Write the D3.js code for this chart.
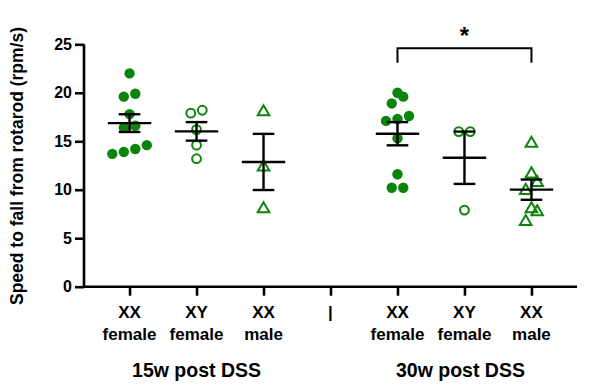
<!DOCTYPE html>
<html><head><meta charset="utf-8">
<script src="https://cdn.jsdelivr.net/npm/d3@7"></script>
<style>body{margin:0;background:#fff}svg{display:block}text{font-family:"Liberation Sans",Arial,sans-serif;font-weight:bold;fill:#000}</style>
</head><body><div id="chart"></div>
<script>
// ---- data ----
const categories = ["15-XX-F","15-XY-F","15-XX-M","sep","30-XX-F","30-XY-F","30-XX-M"];
const tickLine1 = ["XX","XY","XX","|","XX","XY","XX"];
const tickLine2 = ["female","female","male","","female","female","male"];
const groupLabels = ["15w post DSS","30w post DSS"];
const shapes = ["filled","open","triangle",null,"filled","open","triangle"];
const g15_XX_female = [22.0,19.9,19.6,17.8,16.6,16.4,14.6,14.2,13.9,13.7];
const g15_XY_female = [18.2,17.9,16.2,14.6,13.2];
const g15_XX_male   = [18.1,12.4,8.1];
const g30_XX_female = [20.0,19.6,18.9,17.6,17.3,17.1,15.3,11.6,10.2,10.2];
const g30_XY_female = [16.0,16.0,7.9];
const g30_XX_male   = [14.85,11.7,10.8,10.0,8.1,7.8,6.8];
const groupValues = [g15_XX_female,g15_XY_female,g15_XX_male,[],g30_XX_female,g30_XY_female,g30_XX_male];
const yTicks = [0,5,10,15,20,25];
const sigPair = ["30-XX-F","30-XX-M"];
const sigLabel = "*";
const yLabel = "Speed to fall from rotarod (rpm/s)";

// ---- layout ----
const W = 590, H = 385;
const green = "#0a840a";
const svg = d3.select("#chart").append("svg").attr("width",W).attr("height",H);
const x = d3.scalePoint().domain(categories).range([84,577]).padding(0.68);
const y = d3.scaleLinear().domain([0,25]).range([286.7,44.3]);

// y axis
const yAx = svg.append("g").attr("transform","translate(84,0)")
  .call(d3.axisLeft(y).tickValues(yTicks).tickSize(9).tickPadding(3));
yAx.select(".domain").attr("stroke","#000").attr("stroke-width",2.6).attr("d",`M0,${y(25)}V${y(0)}`);
yAx.selectAll(".tick line").attr("stroke","#000").attr("stroke-width",2.6);
yAx.selectAll(".tick text").style("font-size","16px").style("font-weight","bold").attr("fill","#000").attr("font-family",null);

// x axis
const xAx = svg.append("g").attr("transform",`translate(0,${y(0)})`)
  .call(d3.axisBottom(x).tickSize(9).tickFormat(""));
xAx.select(".domain").attr("stroke","#000").attr("stroke-width",2.6).attr("d",`M84,0H577`);
xAx.selectAll(".tick line").attr("stroke","#000").attr("stroke-width",2.6);
categories.forEach((c,i)=>{
  svg.append("text").attr("x",x(c)).attr("y",318).attr("text-anchor","middle").style("font-size","17px").text(tickLine1[i]);
  svg.append("text").attr("x",x(c)).attr("y",340).attr("text-anchor","middle").style("font-size","17px").text(tickLine2[i]);
});
svg.append("text").attr("x",(x(categories[0])+x(categories[2]))/2).attr("y",377).attr("text-anchor","middle").style("font-size","19.5px").text(groupLabels[0]);
svg.append("text").attr("x",(x(categories[4])+x(categories[6]))/2-4).attr("y",377).attr("text-anchor","middle").style("font-size","19.5px").text(groupLabels[1]);

// y label
svg.append("text").attr("transform",`translate(23,166) rotate(-90)`).attr("text-anchor","middle").style("font-size","17.5px").text(yLabel);

// ---- points (row-based swarm) ----
const spacing = 11.5, rowH = 10;
function swarm(vals){
  const s = vals.map(v=>({v,py:y(v)})).sort((a,b)=>b.py-a.py);
  const out=[]; let i=0;
  while(i<s.length){
    const row=[s[i]]; let j=i+1;
    while(j<s.length && s[i].py - s[j].py < rowH){row.push(s[j]); j++;}
    row.forEach((p,k)=>{p.dx=(k-(row.length-1)/2)*spacing; out.push(p);});
    i=j;
  }
  return out;
}
const tri = d3.symbol().type(d3.symbolTriangle).size(58);
groupValues.forEach((vals,gi)=>{
  if(!vals.length) return;
  const cx = x(categories[gi]);
  const pts = swarm(vals);
  const g = svg.append("g");
  pts.forEach(p=>{
    if(shapes[gi]==="filled") g.append("circle").attr("cx",cx+p.dx).attr("cy",p.py).attr("r",5.2).attr("fill",green);
    else if(shapes[gi]==="open") g.append("circle").attr("cx",cx+p.dx).attr("cy",p.py).attr("r",4.4).attr("fill","none").attr("stroke",green).attr("stroke-width",2);
    else g.append("path").attr("d",tri).attr("transform",`translate(${cx+p.dx},${p.py+0.8})`).attr("fill","none").attr("stroke",green).attr("stroke-width",2);
  });
  // mean +/- SEM
  const m = d3.mean(vals), sem = d3.deviation(vals)/Math.sqrt(vals.length);
  const lg = svg.append("g").attr("stroke","#000").attr("stroke-width",2.4);
  lg.append("line").attr("x1",cx-21.7).attr("x2",cx+21.7).attr("y1",y(m)).attr("y2",y(m));
  lg.append("line").attr("x1",cx).attr("x2",cx).attr("y1",y(m+sem)).attr("y2",y(m-sem));
  [m+sem,m-sem].forEach(v=>lg.append("line").attr("x1",cx-10.8).attr("x2",cx+10.8).attr("y1",y(v)).attr("y2",y(v)));
});

// significance bracket
const bx1 = x(sigPair[0]), bx2 = x(sigPair[1]);
svg.append("path").attr("d",`M${bx1},62.7V48.3H${bx2}V62.7`).attr("fill","none").attr("stroke","#000").attr("stroke-width",2);
svg.append("text").attr("x",(bx1+bx2)/2).attr("y",44).attr("text-anchor","middle").style("font-size","24px").text(sigLabel);
</script></body></html>
